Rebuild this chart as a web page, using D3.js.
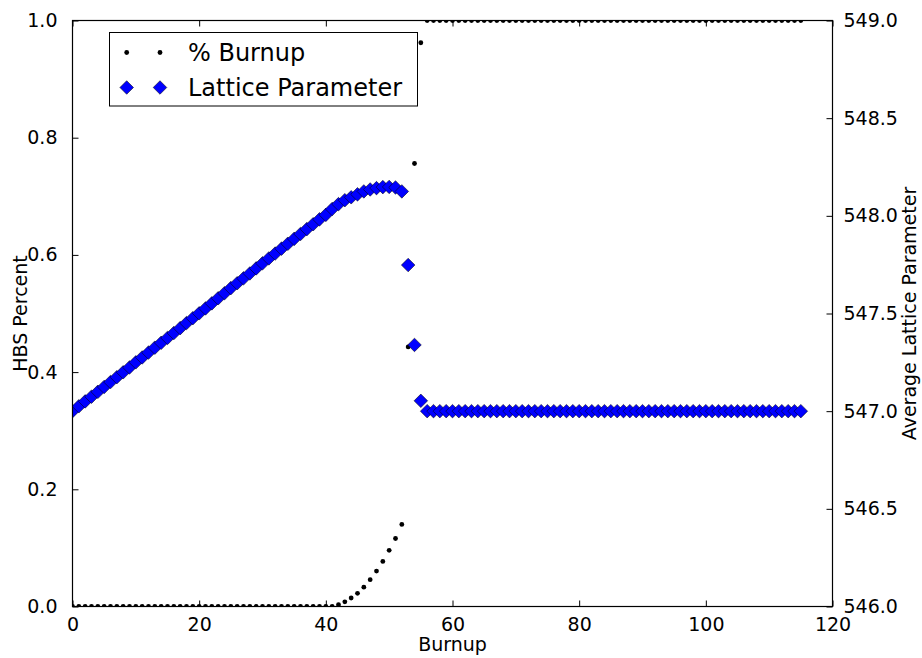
<!DOCTYPE html>
<html>
<head>
<meta charset="utf-8">
<script src="https://cdn.jsdelivr.net/npm/d3@7/dist/d3.min.js"></script>
<style>
  html, body { margin: 0; padding: 0; background: #fff; }
  svg { display: block; font-family: "DejaVu Sans", sans-serif; }
</style>
</head>
<body>
<svg id="chart" width="922" height="658"></svg>
<script>
// Burnup steps (x) shared by both series
const burnup = [
  0, 1, 2, 3, 4, 5, 6, 7, 8, 9, 10, 11, 12, 13, 14, 15, 16, 17, 18, 19,
  20, 21, 22, 23, 24, 25, 26, 27, 28, 29, 30, 31, 32, 33, 34, 35, 36, 37, 38, 39,
  40, 41, 42, 43, 44, 45, 46, 47, 48, 49, 50, 51, 52, 53, 54, 55, 56, 57, 58, 59,
  60, 61, 62, 63, 64, 65, 66, 67, 68, 69, 70, 71, 72, 73, 74, 75, 76, 77, 78, 79,
  80, 81, 82, 83, 84, 85, 86, 87, 88, 89, 90, 91, 92, 93, 94, 95, 96, 97, 98, 99,
  100, 101, 102, 103, 104, 105, 106, 107, 108, 109, 110, 111, 112, 113, 114, 115
];

// HBS fraction ("% Burnup" series, left axis)
const hbsPercent = [
  0, 0, 0, 0, 0, 0, 0, 0, 0, 0, 0, 0, 0, 0, 0, 0, 0, 0, 0, 0,
  0, 0, 0, 0, 0, 0, 0, 0, 0, 0, 0, 0, 0, 0, 0, 0, 0, 0, 0, 0,
  0, 0, 0.003, 0.008, 0.0145, 0.0225, 0.033, 0.0457, 0.0605, 0.077, 0.0958, 0.116, 0.140, 0.443, 0.756, 0.962, 1, 1, 1, 1,
  1, 1, 1, 1, 1, 1, 1, 1, 1, 1, 1, 1, 1, 1, 1, 1, 1, 1, 1, 1,
  1, 1, 1, 1, 1, 1, 1, 1, 1, 1, 1, 1, 1, 1, 1, 1, 1, 1, 1, 1,
  1, 1, 1, 1, 1, 1, 1, 1, 1, 1, 1, 1, 1, 1, 1, 1
];

// Average lattice parameter (right axis)
const latticeParam = [
  547.000, 547.025, 547.050, 547.074, 547.099, 547.124, 547.149, 547.174, 547.199, 547.224,
  547.250, 547.275, 547.300, 547.325, 547.350, 547.375, 547.400, 547.425, 547.451, 547.476,
  547.501, 547.526, 547.552, 547.578, 547.604, 547.630, 547.655, 547.680, 547.705, 547.731,
  547.757, 547.782, 547.807, 547.832, 547.857, 547.882, 547.907, 547.932, 547.957, 547.982,
  548.005, 548.035, 548.060, 548.080, 548.095, 548.110, 548.125, 548.135, 548.142, 548.147,
  548.148, 548.145, 548.125, 547.748, 547.339, 547.053, 547.0, 547.0, 547.0, 547.0,
  547.0, 547.0, 547.0, 547.0, 547.0, 547.0, 547.0, 547.0, 547.0, 547.0,
  547.0, 547.0, 547.0, 547.0, 547.0, 547.0, 547.0, 547.0, 547.0, 547.0,
  547.0, 547.0, 547.0, 547.0, 547.0, 547.0, 547.0, 547.0, 547.0, 547.0,
  547.0, 547.0, 547.0, 547.0, 547.0, 547.0, 547.0, 547.0, 547.0, 547.0,
  547.0, 547.0, 547.0, 547.0, 547.0, 547.0, 547.0, 547.0, 547.0, 547.0,
  547.0, 547.0, 547.0, 547.0, 547.0, 547.0
];

// Tick values
const xTicks = [0, 20, 40, 60, 80, 100, 120];
const leftTicks = [0.0, 0.2, 0.4, 0.6, 0.8, 1.0];
const rightTicks = [546.0, 546.5, 547.0, 547.5, 548.0, 548.5, 549.0];

const seriesNames = ["% Burnup", "Lattice Parameter"];

const svg = d3.select("#chart");
const plotL = 72.5, plotR = 832.5, plotT = 20.5, plotB = 606.5;

const x = d3.scaleLinear().domain([0, 120]).range([plotL, plotR]);
const yL = d3.scaleLinear().domain([0, 1]).range([plotB, plotT]);
const yR = d3.scaleLinear().domain([546, 549]).range([plotB, plotT]);

svg.append("defs").append("clipPath").attr("id", "plotClip")
  .append("rect")
  .attr("x", plotL).attr("y", plotT)
  .attr("width", plotR - plotL).attr("height", plotB - plotT);

const plot = svg.append("g").attr("clip-path", "url(#plotClip)");

// HBS dots (primary axis, drawn first)
plot.append("g").selectAll("circle")
  .data(burnup.map((b, i) => [b, hbsPercent[i]]))
  .join("circle")
  .attr("cx", d => x(d[0]))
  .attr("cy", d => yL(d[1]))
  .attr("r", 2.4)
  .attr("fill", "#000");

// Lattice parameter diamonds (twin axis, drawn on top)
const diamond = d3.symbol().type(d3.symbolSquare).size(92);
plot.append("g").selectAll("path")
  .data(burnup.map((b, i) => [b, latticeParam[i]]))
  .join("path")
  .attr("d", diamond)
  .attr("transform", d => `translate(${x(d[0])},${yR(d[1])}) rotate(45)`)
  .attr("fill", "#0000ff")
  .attr("stroke", "#000")
  .attr("stroke-width", 0.5);

// Axes with inward ticks
const tickLen = 6;
const fontSize = 19;

const axB = d3.axisBottom(x).tickValues(xTicks).tickSize(-tickLen).tickPadding(tickLen + 5).tickFormat(d3.format("d"));
const gB = svg.append("g").attr("transform", `translate(0,${plotB})`).call(axB);
const axT = d3.axisTop(x).tickValues(xTicks).tickSize(-tickLen).tickFormat("");
const gT = svg.append("g").attr("transform", `translate(0,${plotT})`).call(axT);
const axL = d3.axisLeft(yL).tickValues(leftTicks).tickSize(-tickLen).tickPadding(tickLen + 9).tickFormat(d3.format(".1f"));
const gL = svg.append("g").attr("transform", `translate(${plotL},0)`).call(axL);
const axR = d3.axisRight(yR).tickValues(rightTicks).tickSize(-tickLen).tickPadding(tickLen + 5).tickFormat(d3.format(".1f"));
const gR = svg.append("g").attr("transform", `translate(${plotR},0)`).call(axR);

[gB, gT, gL, gR].forEach(g => {
  g.select(".domain").remove();
  g.selectAll("line").attr("stroke", "#000").attr("stroke-width", 1);
  g.selectAll("text")
    .attr("fill", "#000")
    .style("font-size", fontSize + "px")
    .style("font-family", "'DejaVu Sans', sans-serif");
});

// Frame
svg.append("rect")
  .attr("x", plotL).attr("y", plotT)
  .attr("width", plotR - plotL).attr("height", plotB - plotT)
  .attr("fill", "none").attr("stroke", "#000").attr("stroke-width", 1.2);

// Axis titles
svg.append("text")
  .attr("x", (plotL + plotR) / 2).attr("y", 651)
  .attr("text-anchor", "middle")
  .style("font-size", fontSize + "px")
  .text("Burnup");

svg.append("text")
  .attr("transform", `translate(27,${(plotT + plotB) / 2}) rotate(-90)`)
  .attr("text-anchor", "middle")
  .style("font-size", fontSize + "px")
  .text("HBS Percent");

svg.append("text")
  .attr("transform", `translate(916,${(plotT + plotB) / 2}) rotate(-90)`)
  .attr("text-anchor", "middle")
  .style("font-size", fontSize + "px")
  .text("Average Lattice Parameter");

// Legend
const lg = svg.append("g");
lg.append("rect")
  .attr("x", 109.5).attr("y", 32.5)
  .attr("width", 308).attr("height", 73.5)
  .attr("fill", "#fff").attr("stroke", "#000").attr("stroke-width", 1);

const rows = [52.5, 87.5];
[126.7, 160].forEach(mx => {
  lg.append("circle").attr("cx", mx).attr("cy", rows[0]).attr("r", 2.4).attr("fill", "#000");
  lg.append("path").attr("d", diamond)
    .attr("transform", `translate(${mx},${rows[1]}) rotate(45)`)
    .attr("fill", "#0000ff").attr("stroke", "#000").attr("stroke-width", 0.5);
});
seriesNames.forEach((name, i) => {
  lg.append("text")
    .attr("x", 188).attr("y", rows[i])
    .attr("dy", "0.35em")
    .style("font-size", "24px")
    .text(name);
});
</script>
</body>
</html>
